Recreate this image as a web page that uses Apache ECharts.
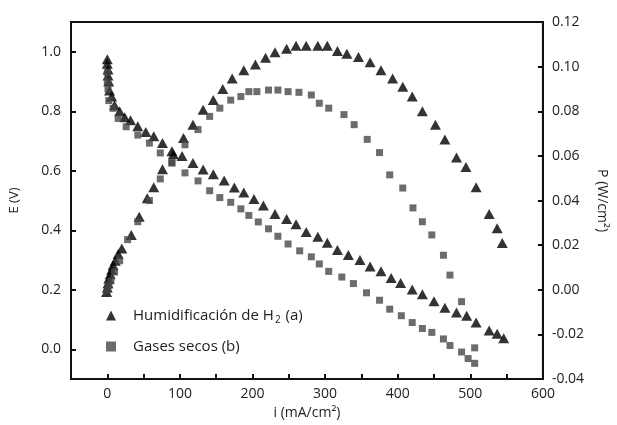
<!DOCTYPE html>
<html>
<head>
<meta charset="utf-8">
<title>E / P vs i</title>
<script src="https://cdn.jsdelivr.net/npm/echarts@6/dist/echarts.min.js"></script>
<style>
  html, body { margin: 0; padding: 0; background: #fff; }
  #chart { width: 617px; height: 425px; }
</style>
</head>
<body>
<div id="chart"></div>
<script>
// Humidificación de H2 (a): potencial E (V) y potencia P (W/cm2) frente a i (mA/cm2)
var iEA = [0, 0, 1, 1, 2, 3, 6, 10, 17, 24, 32, 42, 53, 64, 76, 89, 103, 118, 132, 146, 161, 175, 188, 202,
  215, 231, 247, 260, 274, 290, 303, 317, 332, 348, 362, 377, 391, 404, 420, 434, 450, 465, 481, 495, 508, 526, 537, 546]
var eA = [0.975, 0.96, 0.94, 0.92, 0.90, 0.87, 0.85, 0.82, 0.80, 0.78, 0.77, 0.75, 0.73, 0.716, 0.693, 0.666,
  0.65, 0.626, 0.604, 0.588, 0.567, 0.544, 0.527, 0.505, 0.483, 0.455, 0.438, 0.42, 0.394, 0.378, 0.358, 0.334,
  0.317, 0.30, 0.278, 0.262, 0.24, 0.223, 0.201, 0.185, 0.162, 0.14, 0.124, 0.113, 0.09, 0.063, 0.052, 0.037]
var iPA = [-1, 0, 1, 2, 4, 6, 8, 11, 15, 20, 33, 44, 55, 64, 76, 91, 105, 118, 132, 146, 159, 172, 188, 204,
  218, 231, 247, 260, 274, 290, 303, 317, 330, 346, 362, 377, 393, 407, 420, 434, 452, 465, 481, 494, 508, 526, 537, 544]
var pA = [-0.001, 0.001, 0.003, 0.005, 0.007, 0.009, 0.011, 0.013, 0.016, 0.0185, 0.0246, 0.0327, 0.041, 0.046, 0.054, 0.0608,
  0.068, 0.074, 0.0807, 0.085, 0.090, 0.0947, 0.0984, 0.101, 0.104, 0.1065, 0.108, 0.1094, 0.1094, 0.1094, 0.1094, 0.107,
  0.1058, 0.1043, 0.102, 0.0984, 0.0947, 0.091, 0.0866, 0.080, 0.074, 0.0674, 0.0593, 0.055, 0.046, 0.034, 0.0276, 0.021]

// Gases secos (b)
var iEB = [0, 0, 1, 2, 8, 15, 26, 42, 58, 73, 89, 107, 125, 141, 155, 170, 184, 195, 208, 222, 235, 249, 265, 281,
  292, 305, 323, 339, 357, 375, 389, 405, 420, 434, 447, 463, 472, 488, 497, 506, 506]
var eB = [0.93, 0.90, 0.875, 0.836, 0.81, 0.776, 0.748, 0.72, 0.693, 0.66, 0.626, 0.593, 0.566, 0.533, 0.51, 0.494,
  0.472, 0.45, 0.428, 0.405, 0.38, 0.354, 0.331, 0.311, 0.287, 0.262, 0.243, 0.221, 0.19, 0.165, 0.135, 0.113,
  0.09, 0.07, 0.057, 0.035, 0.013, -0.009, -0.031, -0.047, 0.005]
var iPB = [0, 2, 5, 10, 17, 28, 42, 58, 73, 89, 107, 125, 141, 155, 170, 184, 195, 206, 222, 235, 249, 264, 281, 292,
  305, 326, 340, 358, 375, 389, 407, 421, 434, 447, 463, 472, 488]
var pB = [0.0, 0.002, 0.004, 0.008, 0.013, 0.0225, 0.0305, 0.040, 0.0497, 0.057, 0.065, 0.0718, 0.0777, 0.0814, 0.085, 0.0866,
  0.0888, 0.0888, 0.0895, 0.0895, 0.0888, 0.0885, 0.0873, 0.0836, 0.0814, 0.0785, 0.074, 0.0674, 0.0615, 0.0515, 0.0456, 0.0367,
  0.0305, 0.0246, 0.0155, 0.0066, -0.0053]

var nameA = 'Humidificación de H2 (a)'
var nameB = 'Gases secos (b)'

function pairs(xs, ys) {
  return xs.map(function (x, k) { return [x, ys[k]] })
}

var font = 'Open Sans'
var txt = '#222'
var axisCol = '#111'

var chart = echarts.init(document.getElementById('chart'))
var option = {
  animation: false,
  grid: {
    left: 68, right: 69, top: 22, bottom: 41,
    show: true, borderColor: axisCol, borderWidth: 2
  },
  legend: {
    orient: 'vertical',
    left: 101,
    top: 303,
    itemWidth: 10,
    itemHeight: 10,
    itemGap: 14,
    data: [{ name: nameA, icon: 'triangle' }, { name: nameB, icon: 'rect' }],
    formatter: function (name) {
      if (name === nameA) return '{f|Humidificación de H}{s|2}{t| (a)}'
      return '{f|' + name + '}'
    },
    textStyle: {
      color: txt,
      rich: {
        f: { fontFamily: font, fontSize: 15, color: txt, padding: [0, 0, 0, 12] },
        t: { fontFamily: font, fontSize: 15, color: txt },
        s: { fontFamily: font, fontSize: 10, color: txt, padding: [9, 1, 0, 1] }
      }
    }
  },
  xAxis: {
    type: 'value',
    min: -50,
    max: 600,
    interval: 50,
    name: 'i (mA/cm²)',
    nameLocation: 'middle',
    nameGap: 24,
    nameTextStyle: { fontFamily: font, fontSize: 14, color: txt },
    axisLine: { onZero: false, lineStyle: { color: axisCol, width: 2 } },
    axisTick: { inside: true, length: 5, lineStyle: { color: axisCol, width: 2 } },
    axisLabel: {
      fontFamily: font, fontSize: 14, color: txt, margin: 8,
      formatter: function (v) { return v % 100 === 0 ? String(v) : '' }
    },
    splitLine: { show: false }
  },
  yAxis: [
    {
      type: 'value',
      min: -0.1,
      max: 1.1,
      splitNumber: 6,
      name: 'E (V)',
      nameLocation: 'middle',
      nameGap: 50,
      nameTextStyle: { fontFamily: font, fontSize: 13, color: txt },
      axisLine: { show: true, onZero: false, lineStyle: { color: axisCol, width: 2 } },
      axisTick: { inside: true, length: 5, lineStyle: { color: axisCol, width: 2 } },
      axisLabel: {
        fontFamily: font, fontSize: 14, color: txt, margin: 10,
        showMinLabel: false, showMaxLabel: false,
        formatter: function (v) { return v.toFixed(1) }
      },
      splitLine: { show: false }
    },
    {
      type: 'value',
      min: -0.04,
      max: 0.12,
      interval: 0.02,
      position: 'right',
      name: 'P (W/cm²)',
      nameLocation: 'middle',
      nameRotate: -90,
      nameGap: 52,
      nameTextStyle: { fontFamily: font, fontSize: 14, color: txt },
      axisLine: { show: true, onZero: false, lineStyle: { color: axisCol, width: 2 } },
      axisTick: { inside: true, length: 5, lineStyle: { color: axisCol, width: 2 } },
      axisLabel: {
        fontFamily: font, fontSize: 14, color: txt, margin: 9,
        formatter: function (v) { return v.toFixed(2) }
      },
      splitLine: { show: false }
    }
  ],
  series: [
    {
      name: nameA, type: 'scatter', yAxisIndex: 0,
      symbol: 'triangle', symbolSize: [11, 10],
      itemStyle: { color: '#000' },
      data: pairs(iEA, eA)
    },
    {
      name: nameA, type: 'scatter', yAxisIndex: 1,
      symbol: 'triangle', symbolSize: [11, 10],
      itemStyle: { color: '#000' },
      data: pairs(iPA, pA)
    },
    {
      name: nameB, type: 'scatter', yAxisIndex: 0,
      symbol: 'rect', symbolSize: 7,
      itemStyle: { color: '#474747' },
      data: pairs(iEB, eB)
    },
    {
      name: nameB, type: 'scatter', yAxisIndex: 1,
      symbol: 'rect', symbolSize: 7,
      itemStyle: { color: '#474747' },
      data: pairs(iPB, pB)
    }
  ]
}
chart.setOption(option)
</script>
</body>
</html>
